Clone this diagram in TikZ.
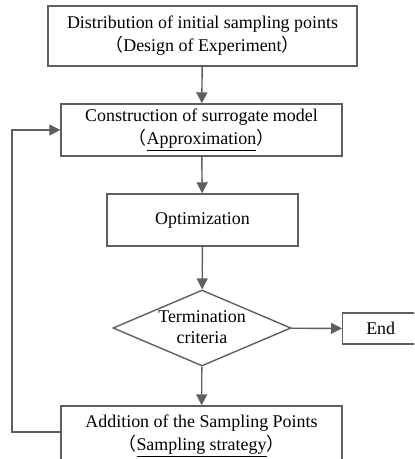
\documentclass[tikz,border=0pt]{standalone}
\usepackage{fontspec}
\setmainfont{Liberation Serif}
\newfontfamily\cjkfont{Noto Sans CJK SC}
\usetikzlibrary{shapes.geometric,arrows.meta}
\definecolor{linegray}{RGB}{95,95,95}
\newcommand{\lp}{{\cjkfont （}}
\newcommand{\rp}{{\cjkfont ）}}
\tikzset{
  box/.style={draw=linegray, line width=1.4bp, rectangle, inner sep=0pt, align=center, font=\fontsize{18}{23}\selectfont},
  decision/.style={draw=linegray, line width=1.4bp, diamond, inner sep=0pt},
  label/.style={inner sep=0pt, align=center, font=\fontsize{18}{21}\selectfont},
  flow/.style={draw=linegray, line width=1.4bp, -{Triangle[length=11bp,width=11bp]}},
}
\begin{document}
\begin{tikzpicture}[x=1bp,y=-1bp]
\clip (0,0) rectangle (414,459);
\useasboundingbox (0,0) rectangle (414,459);
\node[box, minimum width=309bp, minimum height=60bp] (doe) at (202.5,36) {Distribution of initial sampling points\\\lp Design of Experiment\rp};
\node[box, minimum width=281bp, minimum height=52bp] (sur) at (201.5,130) {Construction of surrogate model\\\lp\underline{Approximation}\rp};
\node[box, minimum width=191bp, minimum height=52bp] (opt) at (202.5,220) {Optimization};
\node[decision, minimum width=178bp, minimum height=76bp] (term) at (202,328) {};
\node[label] (termtext) at (202,327) {Termination\\criteria};
\node[box, minimum width=76bp, minimum height=31bp, anchor=west] (end) at (342,328.5) {End};
\node[box, minimum width=281bp, minimum height=60bp] (add) at (201.5,436) {Addition of the Sampling Points\\\lp\underline{Sampling strategy}\rp};
\coordinate (c1) at (12,432);
\coordinate (c2) at (12,130);
\draw[flow] (doe) -- (sur);
\draw[flow] (sur) -- (opt);
\draw[flow] (opt) -- (term);
\draw[flow] (term) -- (end);
\draw[flow] (term) -- (add);
\draw[flow] (add.west |- c1) -- (c1) -- (c2) -- (sur.west);
\end{tikzpicture}
\end{document}
